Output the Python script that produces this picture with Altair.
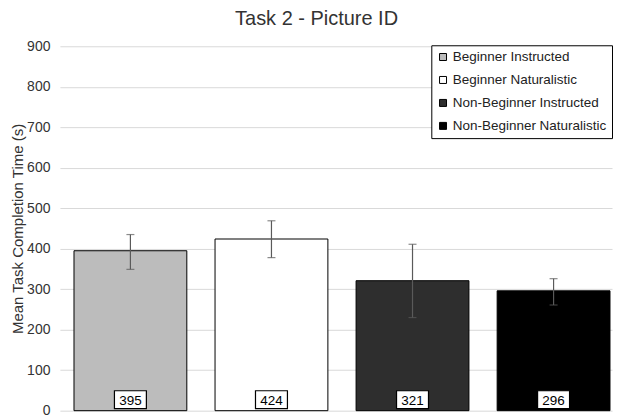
import altair as alt
import pandas as pd

categories = ["Beginner Instructed", "Beginner Naturalistic", "Non-Beginner Instructed", "Non-Beginner Naturalistic"]
means = [395, 424, 321, 296]
err_lo = [349, 378, 230, 261]
err_hi = [435, 469, 411, 326]
fills = ["#bcbcbc", "#ffffff", "#2e2e2e", "#000000"]
y_ticks = [0, 100, 200, 300, 400, 500, 600, 700, 800, 900]

df = pd.DataFrame({"group": categories, "mean": means, "lo": err_lo, "hi": err_hi})

FONT = "Liberation Sans"
H = 365
W = 553

xenc = alt.X("group:N", sort=categories, axis=None,
             scale=alt.Scale(paddingInner=0.2, paddingOuter=0.057, align=0.875))
yscale = alt.Scale(domain=[0, 900], nice=False)
yaxis = alt.Axis(title="Mean Task Completion Time (s)", values=y_ticks, tickCount=10,
                 grid=True, gridColor="#d9d9d9", domain=False, ticks=False,
                 labelOverlap=False,
                 labelPadding=10, labelFontSize=14, labelFont=FONT, labelColor="#333333",
                 titleFontSize=15, titleFont=FONT, titleFontWeight="normal",
                 titleColor="#333333", titlePadding=1)

bars = alt.Chart(df).mark_bar(stroke="black", strokeWidth=1).encode(
    x=xenc,
    y=alt.Y("mean:Q", scale=yscale, axis=yaxis),
    color=alt.Color("group:N", sort=categories,
                    scale=alt.Scale(domain=categories, range=fills),
                    legend=alt.Legend(title=None, orient="none", legendX=372, legendY=-1,
                                      symbolType="square", symbolSize=49,
                                      symbolStrokeColor="black", symbolStrokeWidth=1,
                                      labelFontSize=13.5, labelFont=FONT, labelColor="#222222",
                                      labelOffset=3, fillColor="white", strokeColor="black",
                                      padding=5, rowPadding=8)),
)

rules = alt.Chart(df).mark_rule(color="#5a5a5a", strokeWidth=1.2).encode(
    x=xenc, y=alt.Y("lo:Q", scale=yscale, axis=yaxis), y2="hi:Q")
caps_hi = alt.Chart(df).mark_tick(color="#5a5a5a", thickness=1.2, size=8).encode(
    x=xenc, y=alt.Y("hi:Q", scale=yscale, axis=yaxis))
caps_lo = alt.Chart(df).mark_tick(color="#5a5a5a", thickness=1.2, size=8).encode(
    x=xenc, y=alt.Y("lo:Q", scale=yscale, axis=yaxis))

box = alt.Chart(df).mark_point(shape="M-1,-0.56L1,-0.56L1,0.56L-1,0.56Z", size=1024, filled=True,
                               fill="white", stroke="black", strokeWidth=1.2, opacity=1).encode(
    x=xenc, y=alt.value(H - 11))
labels = alt.Chart(df).mark_text(font=FONT, fontSize=13.5, color="black", baseline="middle").encode(
    x=xenc, y=alt.value(H - 10), text="mean:Q")

chart = alt.layer(bars, rules, caps_hi, caps_lo, box, labels).properties(
    width=W, height=H,
    title=alt.TitleParams("Task 2 - Picture ID", fontSize=20, font=FONT, fontWeight="normal",
                          color="#333333", anchor="middle", frame="bounds", offset=10, dx=5),
    padding={"left": 2, "top": 1, "right": 0, "bottom": 0},
).configure_view(stroke=None)

chart.save("out.html", embed_options={"renderer": "svg", "actions": False})
